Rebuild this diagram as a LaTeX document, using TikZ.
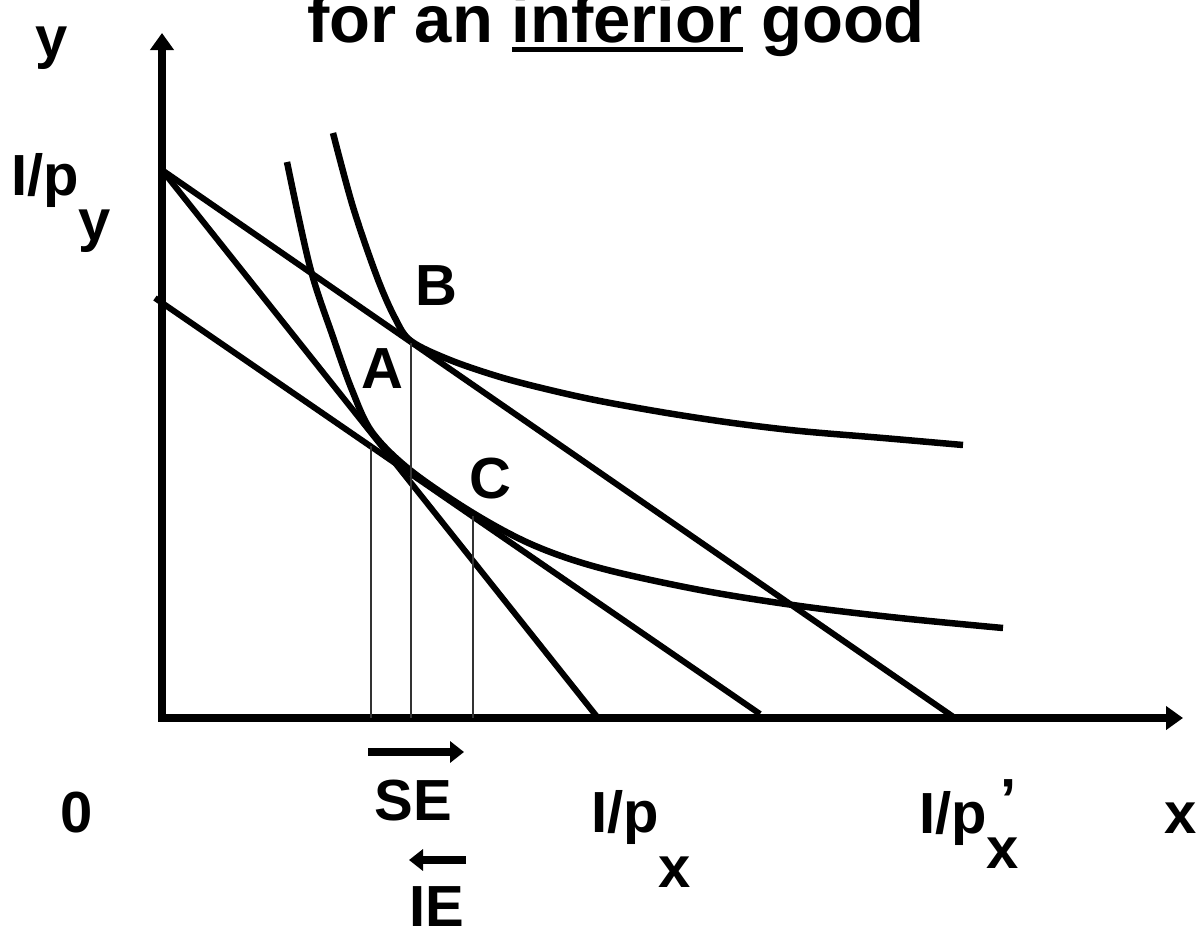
\documentclass[tikz,border=0pt]{standalone}
\usepackage{fontspec}
\setmainfont{Liberation Sans}
\usetikzlibrary{arrows.meta}
\newcommand\myul[1]{\setbox0=\hbox{#1}\rlap{\rule[-10pt]{\wd0}{5pt}}\box0\relax}
\begin{document}
\begin{tikzpicture}[x=1pt,y=-1pt,
  lab/.style={inner sep=0pt,outer sep=0pt,font=\fontsize{58}{60}\selectfont\bfseries},
  axis/.style={line width=8pt,line join=miter,{Triangle[length=17pt,width=23pt]}-{Triangle[length=17pt,width=23pt]}},
  budget/.style={line width=6pt},
  icurve/.style={line width=6.5pt,line cap=butt},
  guide/.style={line width=1.3pt,black!80},
  effect/.style={line width=7.5pt,-{Triangle[length=14pt,width=21pt]}}]
\useasboundingbox (0,0) rectangle (1199,926);
% axes
\coordinate (ytip) at (162,33);
\coordinate (O) at (162,718);
\coordinate (xtip) at (1183,718);
\draw[axis] (ytip) -- (O) -- (xtip);
% budget lines
\coordinate (Ipy) at (162,170);
\coordinate (Ipx) at (598,718);
\coordinate (Ipxp) at (955,718);
\coordinate (c0) at (155,298);
\coordinate (c1) at (760,714);
\draw[budget] (Ipy) -- (Ipx);
\draw[budget] (Ipy) -- (Ipxp);
\draw[budget] (c0) -- (c1);
% indifference curves
\draw[icurve] plot[smooth,tension=0.55] coordinates {(287,162) (310,267) (333,337) (352,390) (372,432) (410,470) (473,513) (533,545) (600,568) (700,590) (800,606) (900,618) (1003,628)};
\draw[icurve] plot[smooth,tension=0.55] coordinates {(333,133) (353,207) (377,277) (395,318) (411,341) (450,360) (500,377) (550,390) (600,401) (667,413) (733,423) (800,431) (883,438) (963,445)};
% guide lines
\coordinate (A) at (371,446);
\coordinate (Ax) at (371,718);
\coordinate (B) at (411,343);
\coordinate (Bx) at (411,718);
\coordinate (C) at (473,516);
\coordinate (Cx) at (473,718);
\draw[guide] (A) -- (Ax);
\draw[guide] (B) -- (Bx);
\draw[guide] (C) -- (Cx);
% effect arrows
\coordinate (se1) at (368,752);
\coordinate (se2) at (464,752);
\coordinate (ie1) at (466,860);
\coordinate (ie2) at (409,860);
\draw[effect] (se1) -- (se2);
\draw[effect] (ie1) -- (ie2);
% labels
\node[lab,font=\fontsize{67}{70}\selectfont\bfseries,anchor=base] (title) at (616,42) {for an \myul{inferior} good};
\node[lab,anchor=base] (ylab) at (52,57) {y};
\node[lab,anchor=base west] (ipylab) at (11,195) {I/p\raisebox{-45pt}{y}};
\node[lab,anchor=base] (Blab) at (436,305) {B};
\node[lab,anchor=base] (Alab) at (382,388) {A};
\node[lab,anchor=base] (Clab) at (490,498) {C};
\node[lab,anchor=base] (zero) at (77,832) {0};
\node[lab,anchor=base] (SE) at (413,820) {SE};
\node[lab,anchor=base] (IE) at (437,926) {IE};
\node[lab,anchor=base west] (ipxlab) at (591,832) {I/p\raisebox{-55pt}{x}};
\node[lab,anchor=base west] (ipxplab) at (919,833) {I/p\rlap{\hspace{14pt}\raisebox{14pt}{’}}\raisebox{-35pt}{x}};
\node[lab,anchor=base] (xlab) at (1181,833) {x};
\end{tikzpicture}
\end{document}
